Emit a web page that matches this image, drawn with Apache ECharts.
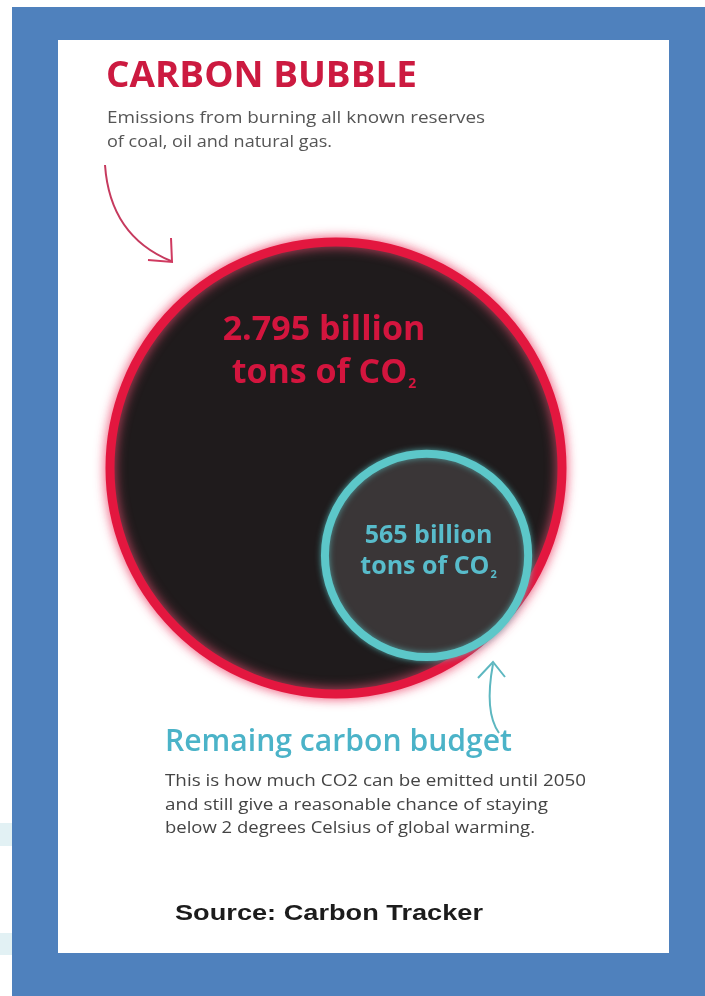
<!DOCTYPE html>
<html><head><meta charset="utf-8">
<script src="https://cdn.jsdelivr.net/npm/echarts@6/dist/echarts.min.js"></script>
<style>html,body{margin:0;padding:0;background:#fff}#c{width:705px;height:996px}</style>
</head><body><div id="c"></div>
<script>
// ---- data ----
const bubbleNames = ['Known reserves of coal, oil and natural gas', 'Remaining carbon budget'];
const bubbleValues = [2795, 565]; // billion tons of CO2
const bubbleLabelLine1 = ['2.795 billion', '565 billion'];
const bubbleLabelLine2 = ['tons of CO', 'tons of CO'];
const titleText = 'CARBON BUBBLE';
const subtitleLines = ['Emissions from burning all known reserves', 'of coal, oil and natural gas.'];
const budgetTitle = 'Remaing carbon budget';
const budgetLines = ['This is how much CO2 can be emitted until 2050', 'and still give a reasonable chance of staying', 'below 2 degrees Celsius of global warming.'];
const sourceText = 'Source: Carbon Tracker';

// ---- layout ----
const W = 705, H = 996;
const BIG_CENTER = [336, 468];
const BIG_DIAMETER = 452;               // symbol size of the largest bubble
const NEST_ANGLE = 44 * Math.PI / 180;  // direction of the nested bubble
const NEST_OVERHANG = 1.5;
const sizeScale = v => BIG_DIAMETER * Math.sqrt(v / bubbleValues[0]);

const sizes = bubbleValues.map(sizeScale);
const R = sizes[0] / 2, r = sizes[1] / 2;
const dist = R - r + NEST_OVERHANG;
const centers = [BIG_CENTER, [BIG_CENTER[0] + dist * Math.cos(NEST_ANGLE), BIG_CENTER[1] + dist * Math.sin(NEST_ANGLE)]];

const styles = [
  { opacity: 1, color: '#1f1b1c', borderColor: '#e3173f', borderWidth: 9, shadowBlur: 12, shadowColor: 'rgba(238,80,115,0.9)' },
  { opacity: 1, color: '#3a3637', borderColor: '#5cc7c9', borderWidth: 8, shadowBlur: 6, shadowColor: 'rgba(92,199,201,0.7)' }
];
const labelStyles = [
  { offset: [-12, -116], main: { fontSize: 34, lineHeight: 43, color: '#d3153e' }, sub: 14, subPad: 22 },
  { offset: [2, -4], main: { fontSize: 25, lineHeight: 31, color: '#58bccb' }, sub: 11, subPad: 16 }
];

const data = bubbleValues.map((v, i) => ({
  name: bubbleNames[i],
  value: [centers[i][0], centers[i][1], v],
  symbolSize: sizes[i],
  itemStyle: styles[i],
  label: {
    show: true, position: 'inside', offset: labelStyles[i].offset,
    formatter: '{a|' + bubbleLabelLine1[i] + '}\n{a|' + bubbleLabelLine2[i] + '}{s|2}',
    rich: {
      a: Object.assign({ fontFamily: 'Open Sans', fontWeight: 'bold', align: 'center' }, labelStyles[i].main),
      s: { fontFamily: 'Open Sans', fontWeight: 'bold', fontSize: labelStyles[i].sub, color: labelStyles[i].main.color, padding: [labelStyles[i].subPad, 0, 0, 1] }
    }
  }
}));

// ---- text helper (fit width) ----
const mctx = document.createElement('canvas').getContext('2d');
function txt(text, x, y, font, fill, targetWidth) {
  mctx.font = font;
  const w = mctx.measureText(text).width;
  const s = targetWidth ? targetWidth / w : 1;
  return { type: 'text', x: x, y: y, scaleX: s, silent: true, z: 10,
    style: { text: text, font: font, fill: fill, textVerticalAlign: 'middle', verticalAlign: 'middle', textAlign: 'left', align: 'left' } };
}

const graphics = [
  { type: 'rect', shape: { x: 12, y: 7, width: W - 12, height: H - 7 }, style: { fill: '#4f81bd' }, z: -10, silent: true },
  { type: 'rect', shape: { x: 0, y: 823, width: 12, height: 23 }, style: { fill: '#e2f1f4' }, z: -10, silent: true },
  { type: 'rect', shape: { x: 0, y: 933, width: 12, height: 22 }, style: { fill: '#e2f1f4' }, z: -10, silent: true },
  { type: 'rect', shape: { x: 58, y: 40, width: 611, height: 913 }, style: { fill: '#ffffff' }, z: -9, silent: true },
  txt(titleText, 106, 77, 'bold 36px "Open Sans"', '#cc1a40', 311),
  txt(subtitleLines[0], 107, 118, '16px "Open Sans"', '#555555', 378),
  txt(subtitleLines[1], 107, 142, '16px "Open Sans"', '#555555', 225),
  txt(budgetTitle, 165, 742, '600 30px "Open Sans"', '#4bb3c8', 347),
  txt(budgetLines[0], 165, 781, '16px "Open Sans"', '#444444', 421),
  txt(budgetLines[1], 165, 805, '16px "Open Sans"', '#444444', 383),
  txt(budgetLines[2], 165, 828, '16px "Open Sans"', '#444444', 370),
  txt(sourceText, 175, 914, 'bold 22px "Liberation Sans"', '#1c1c1c', 308),
  // red arrow
  { type: 'bezierCurve', shape: { x1: 105, y1: 165, cpx1: 110, cpy1: 236, x2: 171, y2: 261 }, style: { stroke: '#c63a5e', lineWidth: 2, fill: null }, silent: true },
  { type: 'polyline', shape: { points: [[171, 238], [172, 262], [148, 260]] }, style: { stroke: '#d03a60', lineWidth: 2, fill: null }, silent: true },
  // cyan arrow
  { type: 'bezierCurve', shape: { x1: 493, y1: 664, cpx1: 484, cpy1: 712, x2: 499, y2: 733 }, style: { stroke: '#5db7c0', lineWidth: 2, fill: null }, silent: true },
  { type: 'polyline', shape: { points: [[478, 678], [493, 662], [505, 677]] }, style: { stroke: '#5db7c0', lineWidth: 2, fill: null }, silent: true }
];

const chart = echarts.init(document.getElementById('c'), null, { renderer: 'canvas' });
chart.setOption({
  animation: false,
  backgroundColor: '#ffffff',
  grid: { left: 0, right: 0, top: 0, bottom: 0 },
  xAxis: { type: 'value', min: 0, max: W, show: false },
  yAxis: { type: 'value', min: 0, max: H, inverse: true, show: false },
  graphic: graphics,
  series: [{
    type: 'scatter', symbol: 'circle', silent: true, z: 2,
    emphasis: { disabled: true },
    data: data
  }]
});
</script></body></html>
